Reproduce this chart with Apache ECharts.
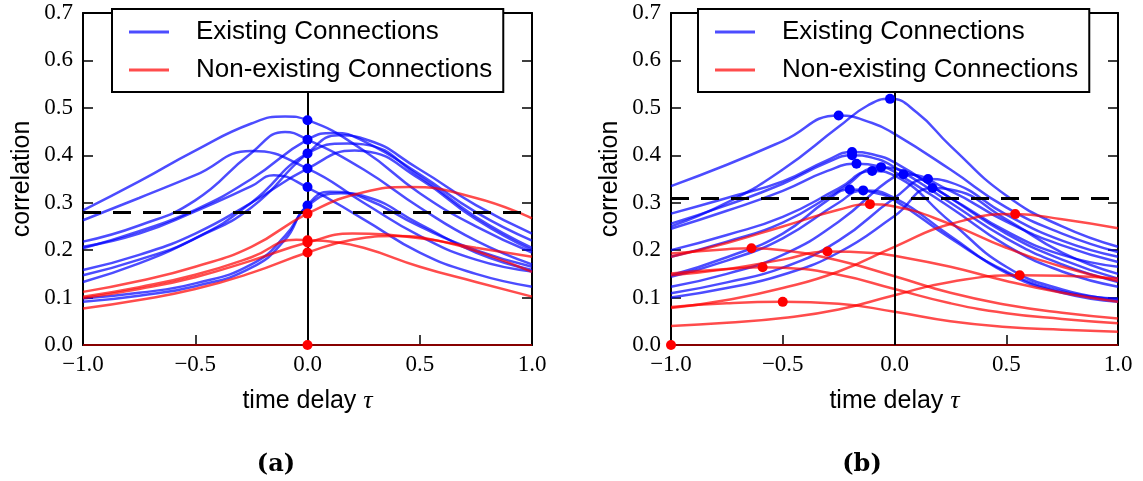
<!DOCTYPE html>
<html><head><meta charset="utf-8">
<script src="https://cdn.jsdelivr.net/npm/echarts/dist/echarts.min.js"></script>
<style>html,body{margin:0;padding:0;background:#fff}#c{width:1143px;height:481px}</style>
</head><body><div id="c"></div><script>
// ---------- axis ticks ----------
const xTicks = [-1, -0.5, 0, 0.5, 1];
const yMin = 0, yMax = 0.7, yStep = 0.1;
const legendNames = ['Existing Connections', 'Non-existing Connections'];
const panelLabels = ['(a)', '(b)'];
const thresholdA = 0.285, thresholdB = 0.309;

// ---------- panel (a): curves [tau, correlation] ----------
const aBlue1 = [[-1,0.284],[-0.75,0.345],[-0.5,0.41],[-0.25,0.467],[-0.1,0.482],[0,0.474],[0.25,0.41],[0.5,0.32],[0.75,0.25],[1,0.195]];
const aBlue2 = [[-1,0.263],[-0.75,0.31],[-0.5,0.358],[-0.25,0.409],[0,0.372],[0.25,0.3],[0.5,0.23],[0.75,0.18],[1,0.155]];
const aBlue3 = [[-1,0.218],[-0.75,0.252],[-0.5,0.305],[-0.25,0.405],[-0.1,0.449],[0,0.433],[0.25,0.37],[0.5,0.29],[0.75,0.22],[1,0.17]];
const aBlue4 = [[-1,0.207],[-0.75,0.235],[-0.5,0.282],[-0.25,0.335],[-0.15,0.358],[0,0.332],[0.25,0.265],[0.5,0.195],[0.75,0.15],[1,0.123]];
const aBlue5 = [[-1,0.204],[-0.75,0.24],[-0.5,0.285],[-0.25,0.35],[0,0.433],[0.12,0.447],[0.25,0.43],[0.5,0.36],[0.75,0.28],[1,0.22]];
const aBlue6 = [[-1,0.133],[-0.75,0.172],[-0.5,0.225],[-0.25,0.29],[0,0.404],[0.14,0.442],[0.25,0.435],[0.5,0.37],[0.75,0.295],[1,0.235]];
const aBlue7 = [[-1,0.147],[-0.75,0.18],[-0.5,0.225],[-0.25,0.3],[0,0.404],[0.18,0.425],[0.25,0.423],[0.5,0.355],[0.75,0.27],[1,0.205]];
const aBlue8 = [[-1,0.158],[-0.75,0.19],[-0.5,0.235],[-0.25,0.3],[0,0.372],[0.21,0.41],[0.25,0.409],[0.5,0.35],[0.75,0.265],[1,0.2]];
const aBlue9 = [[-1,0.098],[-0.75,0.11],[-0.5,0.13],[-0.25,0.17],[-0.1,0.23],[0,0.295],[0.1,0.323],[0.25,0.31],[0.5,0.25],[0.75,0.2],[1,0.165]];
const aBlue10 = [[-1,0.091],[-0.75,0.104],[-0.5,0.124],[-0.25,0.163],[-0.1,0.222],[0,0.293],[0.15,0.32],[0.25,0.314],[0.5,0.255],[0.75,0.195],[1,0.158]];
const aRed1 = [[-1,0.112],[-0.75,0.135],[-0.5,0.165],[-0.25,0.207],[0,0.277],[0.25,0.322],[0.45,0.333],[0.75,0.31],[1,0.267]];
const aRed2 = [[-1,0.102],[-0.75,0.122],[-0.5,0.148],[-0.25,0.185],[-0.05,0.222],[0,0.221],[0.1,0.218],[0.25,0.205],[0.5,0.165],[0.75,0.133],[1,0.102]];
const aRed3 = [[-1,0.099],[-0.75,0.118],[-0.5,0.143],[-0.25,0.178],[0,0.216],[0.2,0.235],[0.5,0.225],[0.75,0.205],[1,0.186]];
const aRed4 = [[-1,0.077],[-0.75,0.095],[-0.5,0.118],[-0.25,0.152],[0,0.195],[0.2,0.222],[0.4,0.23],[0.6,0.218],[0.8,0.19],[1,0.154]];
const aZero = [[-1,0],[1,0]];
const aBlueDots = [[0,0.474],[0,0.433],[0,0.404],[0,0.372],[0,0.333],[0,0.294]];
const aRedDots = [[0,0.277],[0,0.221],[0,0.216],[0,0.195],[0,0]];

// ---------- panel (b): curves [tau, correlation] ----------
const bBlue1 = [[-1,0.25],[-0.75,0.3],[-0.5,0.37],[-0.25,0.46],[-0.12,0.505],[-0.02,0.519],[0.1,0.49],[0.25,0.42],[0.5,0.315],[0.75,0.25],[1,0.207]];
const bBlue2 = [[-1,0.335],[-0.75,0.38],[-0.5,0.43],[-0.25,0.484],[-0.1,0.468],[0,0.445],[0.25,0.37],[0.5,0.29],[0.75,0.235],[1,0.196]];
const bBlue3 = [[-1,0.277],[-0.75,0.31],[-0.5,0.345],[-0.3,0.39],[-0.19,0.407],[-0.1,0.402],[0,0.385],[0.25,0.31],[0.5,0.235],[0.75,0.18],[1,0.14]];
const bBlue4 = [[-1,0.256],[-0.75,0.295],[-0.5,0.34],[-0.3,0.385],[-0.19,0.4],[-0.1,0.395],[0,0.375],[0.25,0.3],[0.5,0.225],[0.75,0.17],[1,0.133]];
const bBlue5 = [[-1,0.245],[-0.75,0.283],[-0.5,0.325],[-0.3,0.367],[-0.17,0.382],[-0.05,0.375],[0,0.365],[0.25,0.29],[0.5,0.21],[0.75,0.155],[1,0.123]];
const bBlue6 = [[-1,0.2],[-0.75,0.232],[-0.5,0.27],[-0.25,0.33],[-0.1,0.367],[0,0.357],[0.25,0.26],[0.5,0.165],[0.75,0.117],[1,0.095]];
const bBlue7 = [[-1,0.186],[-0.75,0.218],[-0.5,0.258],[-0.25,0.325],[-0.06,0.375],[0,0.372],[0.25,0.31],[0.5,0.24],[0.75,0.19],[1,0.165]];
const bBlue8 = [[-1,0.147],[-0.75,0.185],[-0.5,0.235],[-0.3,0.305],[-0.2,0.328],[-0.1,0.322],[0,0.305],[0.25,0.225],[0.5,0.155],[0.75,0.113],[1,0.098]];
const bBlue9 = [[-1,0.144],[-0.75,0.178],[-0.5,0.225],[-0.25,0.3],[-0.14,0.326],[0,0.31],[0.25,0.23],[0.5,0.152],[0.75,0.11],[1,0.091]];
const bBlue10 = [[-1,0.123],[-0.75,0.15],[-0.5,0.19],[-0.25,0.26],[0,0.355],[0.04,0.36],[0.25,0.325],[0.5,0.26],[0.75,0.21],[1,0.175]];
const bBlue11 = [[-1,0.109],[-0.75,0.132],[-0.5,0.163],[-0.25,0.22],[0,0.31],[0.15,0.35],[0.25,0.343],[0.5,0.275],[0.75,0.22],[1,0.186]];
const bBlue12 = [[-1,0.1],[-0.75,0.12],[-0.5,0.148],[-0.25,0.195],[0,0.272],[0.17,0.331],[0.25,0.328],[0.5,0.265],[0.75,0.195],[1,0.15]];
const bRed1 = [[-1,0.186],[-0.75,0.215],[-0.5,0.25],[-0.25,0.285],[-0.11,0.297],[0,0.292],[0.25,0.255],[0.5,0.205],[0.75,0.165],[1,0.135]];
const bRed2 = [[-1,0.193],[-0.75,0.202],[-0.64,0.204],[-0.5,0.2],[-0.25,0.178],[0,0.145],[0.25,0.11],[0.5,0.085],[0.75,0.068],[1,0.056]];
const bRed3 = [[-1,0.147],[-0.75,0.16],[-0.5,0.18],[-0.3,0.197],[-0.1,0.194],[0,0.188],[0.25,0.165],[0.5,0.135],[0.75,0.11],[1,0.091]];
const bRed4 = [[-1,0.151],[-0.75,0.16],[-0.59,0.164],[-0.5,0.163],[-0.25,0.148],[0,0.118],[0.25,0.088],[0.5,0.067],[0.75,0.055],[1,0.046]];
const bRed5 = [[-1,0.08],[-0.75,0.088],[-0.5,0.091],[-0.25,0.087],[0,0.07],[0.25,0.05],[0.5,0.038],[0.75,0.032],[1,0.028]];
const bRed6 = [[-1,0.078],[-0.75,0.095],[-0.5,0.12],[-0.25,0.155],[0,0.207],[0.25,0.255],[0.54,0.276],[0.75,0.265],[1,0.246]];
const bRed7 = [[-1,0.04],[-0.75,0.047],[-0.5,0.057],[-0.25,0.075],[0,0.105],[0.25,0.133],[0.56,0.147],[0.75,0.146],[1,0.14]];
const bZero = [[-1,0],[1,0]];
const bBlueDots = [[-0.02,0.519],[-0.25,0.484],[-0.19,0.407],[-0.19,0.4],[-0.17,0.382],[-0.1,0.367],[-0.06,0.375],[-0.2,0.328],[-0.14,0.326],[0.04,0.36],[0.15,0.35],[0.17,0.331]];
const bRedDots = [[-0.11,0.297],[-0.64,0.204],[-0.3,0.197],[-0.59,0.164],[-0.5,0.091],[0.54,0.276],[0.56,0.147],[-1,0]];

const panels = [
  {blue:[aBlue1,aBlue2,aBlue3,aBlue4,aBlue5,aBlue6,aBlue7,aBlue8,aBlue9,aBlue10], red:[aRed1,aRed2,aRed3,aRed4], zero:aZero, blueDots:aBlueDots, redDots:aRedDots, thr:thresholdA},
  {blue:[bBlue1,bBlue2,bBlue3,bBlue4,bBlue5,bBlue6,bBlue7,bBlue8,bBlue9,bBlue10,bBlue11,bBlue12], red:[bRed1,bRed2,bRed3,bRed4,bRed5,bRed6,bRed7], zero:bZero, blueDots:bBlueDots, redDots:bRedDots, thr:thresholdB}
];

// ---------- styling / layout ----------
const BLUE = 'rgba(0,0,255,0.7)', RED = 'rgba(255,0,0,0.7)';
const gridPos = [{left:83, top:13, width:449, height:332},{left:671, top:13, width:447, height:332}];
const legendPos = [112, 698];
const labelPos = [[276,465],[862,465]];
const serif = '"Liberation Serif", "DejaVu Serif", serif';
const sans = '"Liberation Sans", Arial, sans-serif';
const fmt = v => (v < 0 ? '\u2212' : '') + Math.abs(v).toFixed(1);

const chart = echarts.init(document.getElementById('c'), null, {renderer:'canvas'});
const grid = [], xAxis = [], yAxis = [], series = [], legend = [], graphic = [];
const lineAx = {lineStyle:{color:'#000', width:2}, onZero:false};
const tickAx = {inside:true, length:10, lineStyle:{color:'#000', width:1.5}};

panels.forEach((p, i) => {
  grid.push(Object.assign({containLabel:false}, gridPos[i]));
  const xb = xAxis.length, yb = yAxis.length;
  xAxis.push({gridIndex:i, type:'value', min:xTicks[0], max:xTicks[xTicks.length-1], interval:xTicks[1]-xTicks[0], position:'bottom',
    axisLine:lineAx, axisTick:tickAx, splitLine:{show:false},
    axisLabel:{formatter:fmt, fontFamily:serif, fontSize:23, color:'#000', margin:8, showMinLabel:true, showMaxLabel:true},
    name:'{s|time delay }{t|\u03c4}', nameLocation:'middle', nameGap:43,
    nameTextStyle:{rich:{s:{fontFamily:sans, fontSize:25, color:'#000'}, t:{fontFamily:serif, fontStyle:'italic', fontSize:26, color:'#000'}}}});
  xAxis.push({gridIndex:i, type:'value', min:xTicks[0], max:xTicks[xTicks.length-1], interval:xTicks[1]-xTicks[0], position:'top',
    axisLine:lineAx, axisTick:tickAx, splitLine:{show:false}, axisLabel:{show:false}});
  yAxis.push({gridIndex:i, type:'value', min:yMin, max:yMax, interval:yStep, position:'left',
    axisLine:lineAx, axisTick:tickAx, splitLine:{show:false},
    axisLabel:{formatter:v=>v.toFixed(1), fontFamily:serif, fontSize:23, color:'#000', margin:10, showMinLabel:true, showMaxLabel:true},
    name:'correlation', nameLocation:'middle', nameRotate:90, nameGap:48,
    nameTextStyle:{fontFamily:sans, fontSize:25, color:'#000'}});
  yAxis.push({gridIndex:i, type:'value', min:yMin, max:yMax, interval:yStep, position:'right',
    axisLine:lineAx, axisTick:tickAx, splitLine:{show:false}, axisLabel:{show:false}});

  const mk = (data, name, color) => ({type:'line', name, xAxisIndex:xb, yAxisIndex:yb, data, smooth:0.5,
    symbol:'none', clip:true, silent:true, animation:false, color, lineStyle:{color, width:2.5}, z:3});
  p.blue.forEach(d => series.push(mk(d, legendNames[0], BLUE)));
  p.red.forEach(d => series.push(mk(d, legendNames[1], RED)));
  const zs = mk(p.zero, legendNames[1], RED); zs.smooth = false; zs.lineStyle = {color:'rgba(150,0,0,0.9)', width:2};
  series.push(zs);
  // reference lines: vertical at tau=0 and dashed threshold
  series.push({type:'line', xAxisIndex:xb, yAxisIndex:yb, data:[], silent:true, animation:false, z:4,
    markLine:{silent:true, animation:false, symbol:'none', label:{show:false},
      data:[{xAxis:0, lineStyle:{color:'#000', width:2, type:'solid'}},
            {yAxis:p.thr, lineStyle:{color:'#000', width:3, type:[18,12]}}]}});
  series.push({type:'scatter', name:'dots-blue', xAxisIndex:xb, yAxisIndex:yb, data:p.blueDots, symbol:'circle', symbolSize:10,
    itemStyle:{color:'#0000ff', opacity:1}, clip:true, silent:true, animation:false, z:5});
  series.push({type:'scatter', name:'dots-red', xAxisIndex:xb, yAxisIndex:yb, data:p.redDots, symbol:'circle', symbolSize:10,
    itemStyle:{color:'#ff0000', opacity:1}, clip:true, silent:true, animation:false, z:5});

  legend.push({left:legendPos[i], top:9, orient:'vertical', selectedMode:false, z:10,
    data:[{name:legendNames[0], itemStyle:{color:BLUE}}, {name:legendNames[1], itemStyle:{color:RED}}],
    icon:'rect', itemWidth:40, itemHeight:3, itemGap:8, padding:[8,11,7,17],
    borderColor:'#000', borderWidth:2, borderRadius:0, backgroundColor:'#fff',
    textStyle:{fontFamily:sans, fontSize:26, color:'#000', lineHeight:30, padding:[0,0,0,22]}});
  graphic.push({type:'text', x:labelPos[i][0], y:labelPos[i][1], z:10,
    style:{text:panelLabels[i], font:'bold 24px "DejaVu Serif", serif', fill:'#000', align:'center', verticalAlign:'middle'}});
});

chart.setOption({animation:false, backgroundColor:'#fff', grid, xAxis, yAxis, series, legend, graphic});
</script></body></html>
